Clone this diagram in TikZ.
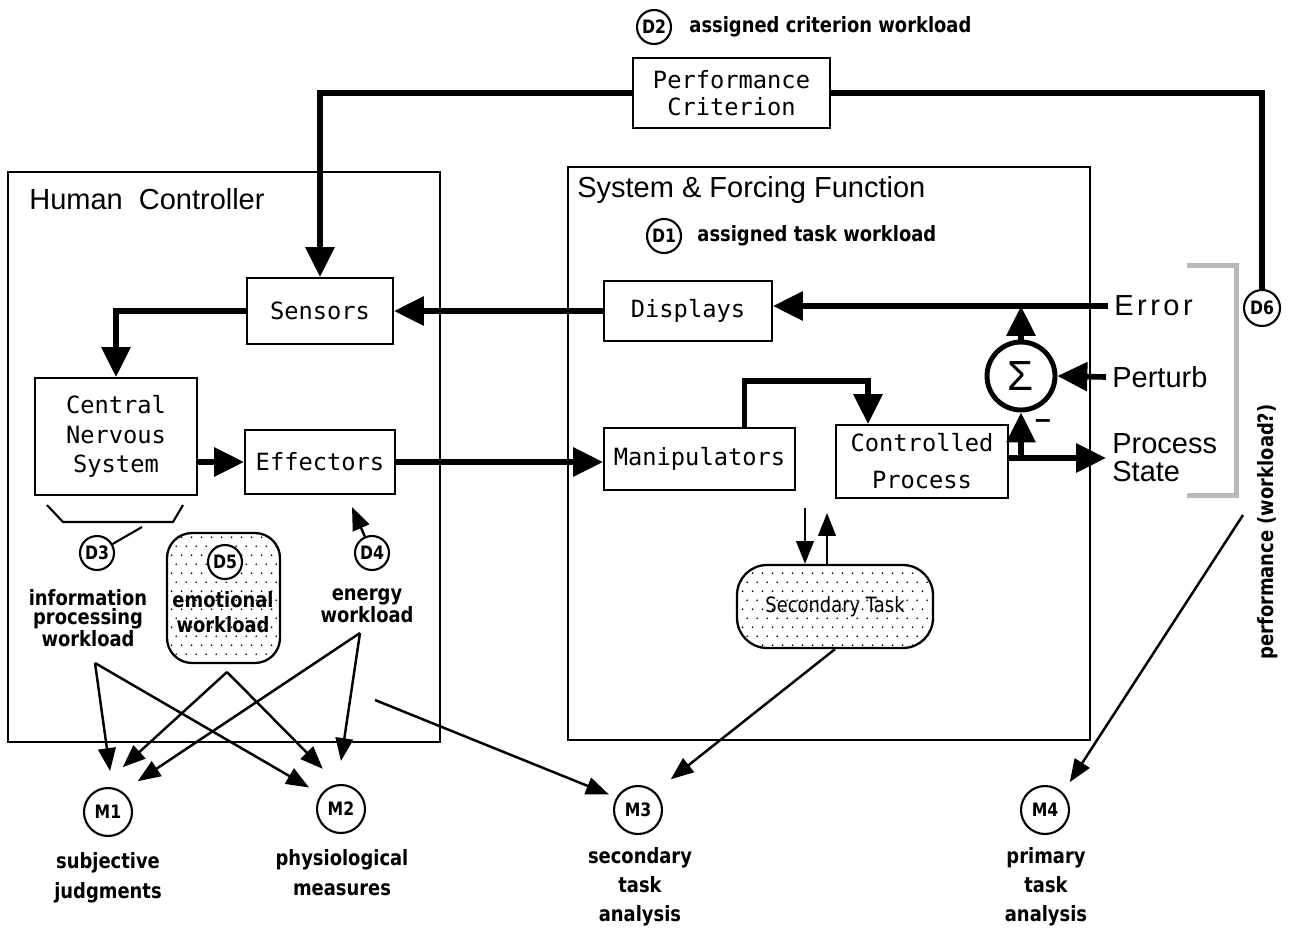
\documentclass[tikz,border=0pt]{standalone}
\usepackage{fontspec}
\setmainfont{Liberation Sans}
\newfontfamily\boxfont{DejaVu Sans Mono}
\newfontfamily\lblfont{DejaVu Sans}[FakeStretch=0.85]
\usepackage{tikz}
\usetikzlibrary{calc,arrows.meta,positioning,patterns}

\newcommand{\lblsize}[1]{\lblfont\bfseries\fontsize{12}{#1}\selectfont}

\pgfdeclarepatternformonly{sparsedots}{\pgfpointorigin}{\pgfpoint{5.7pt}{10.2pt}}{\pgfpoint{5.7pt}{10.2pt}}{%
  \pgfpathcircle{\pgfpoint{1pt}{1pt}}{0.55pt}%
  \pgfpathcircle{\pgfpoint{3.85pt}{6.1pt}}{0.55pt}%
  \pgfusepath{fill}}

\begin{document}
\begin{tikzpicture}[x=0.02cm, y=-0.02cm]
    % Define styles
    \tikzstyle{block} = [rectangle, draw, line width=1.1pt, align=center, inner sep=0pt, font=\boxfont\fontsize{13.5}{16.5}\selectfont]
    \tikzstyle{frame} = [draw, line width=1pt]
    \tikzstyle{tag} = [circle, draw, line width=1.2pt, fill=white, inner sep=0pt, minimum size=0.68cm, font=\lblfont\bfseries\fontsize{10.5}{10.5}\selectfont]
    \tikzstyle{meas} = [tag, minimum size=0.96cm]
    \tikzstyle{lbl} = [align=center, inner sep=0pt, font=\lblsize{11}]
    \tikzstyle{sig} = [inner sep=0.12cm, align=left, font=\fontsize{16.5}{15}\selectfont]
    \tikzstyle{dotbox} = [draw, line width=1.3pt, pattern=sparsedots, align=center, inner sep=0pt]
    \tikzstyle{bigline} = [line width=3.2pt]
    \tikzstyle{bigarrow} = [bigline, -{Triangle[length=17pt, width=16pt]}]
    \tikzstyle{arrow} = [line width=1.4pt, -{Triangle[length=13pt, width=10pt]}]

    \useasboundingbox (0,0) rectangle (1290,933);

    % Draw the two frames with their titles
    \draw[frame] (8,172) rectangle (440,742);
    \draw[frame] (568,167) rectangle (1090,740);
    \node[sig, anchor=west, inner sep=0pt] (human) at (29,199) {Human\ \ Controller};
    \node[sig, anchor=west, inner sep=0pt] (system) at (577,190) {System \& Forcing Function};

    % Draw blocks
    \node[block, minimum width=3.94cm, minimum height=1.4cm, font=\boxfont\fontsize{13.5}{15.5}\selectfont] (perf) at (731.5,93) {Performance\\Criterion};
    \node[block, minimum width=2.92cm, minimum height=1.32cm] (sensors) at (320,311) {Sensors};
    \node[block, minimum width=3.36cm, minimum height=1.2cm] (displays) at (688,311) {Displays};
    \node[block, minimum width=3.24cm, minimum height=2.34cm, font=\boxfont\fontsize{13.5}{16.8}\selectfont] (cns) at (116,436.5) {Central\\Nervous\\System};
    \node[block, minimum width=3.0cm, minimum height=1.28cm] (effectors) at (320,462) {Effectors};
    \node[block, minimum width=3.82cm, minimum height=1.24cm] (manip) at (699.5,459) {Manipulators};
    \node[block, minimum width=3.44cm, minimum height=1.46cm, font=\boxfont\fontsize{13.5}{21}\selectfont] (cproc) at (922,461.5) {Controlled\\Process};
    \node[circle, draw, line width=2.8pt, minimum size=1.36cm, inner sep=0pt, font=\fontsize{24}{24}\selectfont] (sigma) at (1021,376) {Σ};

    % Signals entering the summing point
    \node[sig, anchor=west] (err) at (1108,306) {\addfontfeatures{LetterSpace=12}Error};
    \node[sig, anchor=west] (perturb) at (1106,377) {Perturb};
    \node[sig, anchor=west, font=\fontsize{16.5}{16}\selectfont] (pstate) at (1106,458) {Process\\State};
    \node[font=\bfseries\fontsize{16}{16}\selectfont, inner sep=0pt] (minus) at (1043,424) {–};

    % Workload sources
    \node[tag] (d2) at (654,27) {D2};
    \node[lbl, right=0.34cm of d2] (d2txt) {assigned criterion workload};
    \node[tag] (d1) at (664,236) {D1};
    \node[lbl, right=0.3cm of d1] (d1txt) {assigned task workload};
    \node[tag, minimum size=0.72cm] (d6) at (1262,308) {D6};
    \node[tag] (d3) at (97,553) {D3};
    \node[lbl] (infotxt) at (88,618) {information\\processing\\workload};
    \node[dotbox, rounded corners=0.5cm, minimum width=2.26cm, minimum height=2.6cm] (emobox) at (223.5,598) {};
    \node[tag] (d5) at (225,562) {D5};
    \node[lbl, font=\lblsize{14}] (emotxt) at (223,612) {emotional\\workload};
    \node[tag] (d4) at (372,553) {D4};
    \node[lbl, font=\lblsize{12.5}] (energytxt) at (367,606) {energy\\workload};
    \node[dotbox, rounded corners=0.6cm, minimum width=3.92cm, minimum height=1.66cm, font=\lblfont\fontsize{12}{12}\selectfont] (sectask) at (835,606.5) {Secondary Task};

    % Measures
    \node[meas] (m1) at (108,812) {M1};
    \node[meas] (m2) at (341,809) {M2};
    \node[meas] (m3) at (638,810) {M3};
    \node[meas] (m4) at (1045,810) {M4};
    \node[lbl, font=\lblsize{17}] (m1txt) at (108,878) {subjective\\judgments};
    \node[lbl, font=\lblsize{17}] (m2txt) at (342,873) {physiological\\measures};
    \node[lbl, font=\lblsize{16.5}] (m3txt) at (640,887) {secondary\\task\\analysis};
    \node[lbl, font=\lblsize{16.5}] (m4txt) at (1046,887) {primary\\task\\analysis};

    % Performance bracket
    \draw[line width=0.1cm, gray!55] (1187,265) -- (1236,265) -- (1236,495) -- (1187,495);
    \node[lbl, rotate=90] (perftxt) at (1268,532) {performance (workload?)};

    % Main control loop
    \draw[bigarrow] (perf.west) -| (sensors.north);
    \draw[bigline] (perf.east) -| (d6.north);
    \draw[bigarrow] (displays.west) -- (sensors.east);
    \draw[bigarrow] (sensors.west) -| (cns.north);
    \draw[bigarrow] (cns.east |- effectors.west) -- (effectors.west);
    \draw[bigarrow] (effectors.east) -- (effectors.east -| manip.west);
    \draw[bigarrow] ($(manip.north)+(45,0)$) |- ($(cproc.north)+(-54,-43)$) -- ($(cproc.north)+(-54,0)$);
    \draw[bigarrow] (err.west) -- (err.west -| displays.east);
    \draw[bigarrow] (sigma.north) -- (sigma.north |- err.west);
    \draw[bigarrow] (perturb.west) -- (sigma.east);
    \draw[bigarrow] (cproc.east |- pstate.west) -- (pstate.west);
    \draw[bigarrow] (sigma.south |- pstate.west) -- (sigma.south);

    % Secondary task links
    \coordinate (secdown) at (805,508);
    \coordinate (secup) at (827,513);
    \draw[arrow] (secdown) -- (secdown |- sectask.north);
    \draw[arrow] (secup |- sectask.north) -- (secup);

    % Information processing brace and energy arrow
    \draw[line width=1.2pt] (47,505) -- (63,522) -- (173,522) -- (183,505);
    \coordinate (cnsbrace) at (142,527);
    \draw[line width=1.2pt] (cnsbrace) -- (d3);
    \coordinate (effup) at (352,507);
    \draw[arrow] (d4) -- (effup);

    % Arrows to the measures
    \coordinate (infoout) at (95,663);
    \coordinate (emoout) at (227,672);
    \coordinate (energyout) at (360,633);
    \coordinate (taskout) at (375,700);
    \coordinate (perfout) at (1243,515);
    \draw[arrow, shorten >=0.33cm] (infoout) -- (m1.80);
    \draw[arrow, shorten >=0.63cm] (emoout) -- (m1.110);
    \draw[arrow, shorten >=0.37cm] (energyout) -- (m1.55);
    \draw[arrow, shorten >=0.27cm] (infoout) -- (m2.144);
    \draw[arrow, shorten >=0.43cm] (emoout) -- (m2.97);
    \draw[arrow, shorten >=0.47cm] (energyout) -- (m2.98);
    \draw[arrow, shorten >=0.16cm] (taskout) -- (m3.150);
    \draw[arrow, shorten >=0.4cm] (sectask.south) -- (m3.47);
    \draw[arrow, shorten >=0.25cm] (perfout) -- (m4.44);
\end{tikzpicture}
\end{document}
